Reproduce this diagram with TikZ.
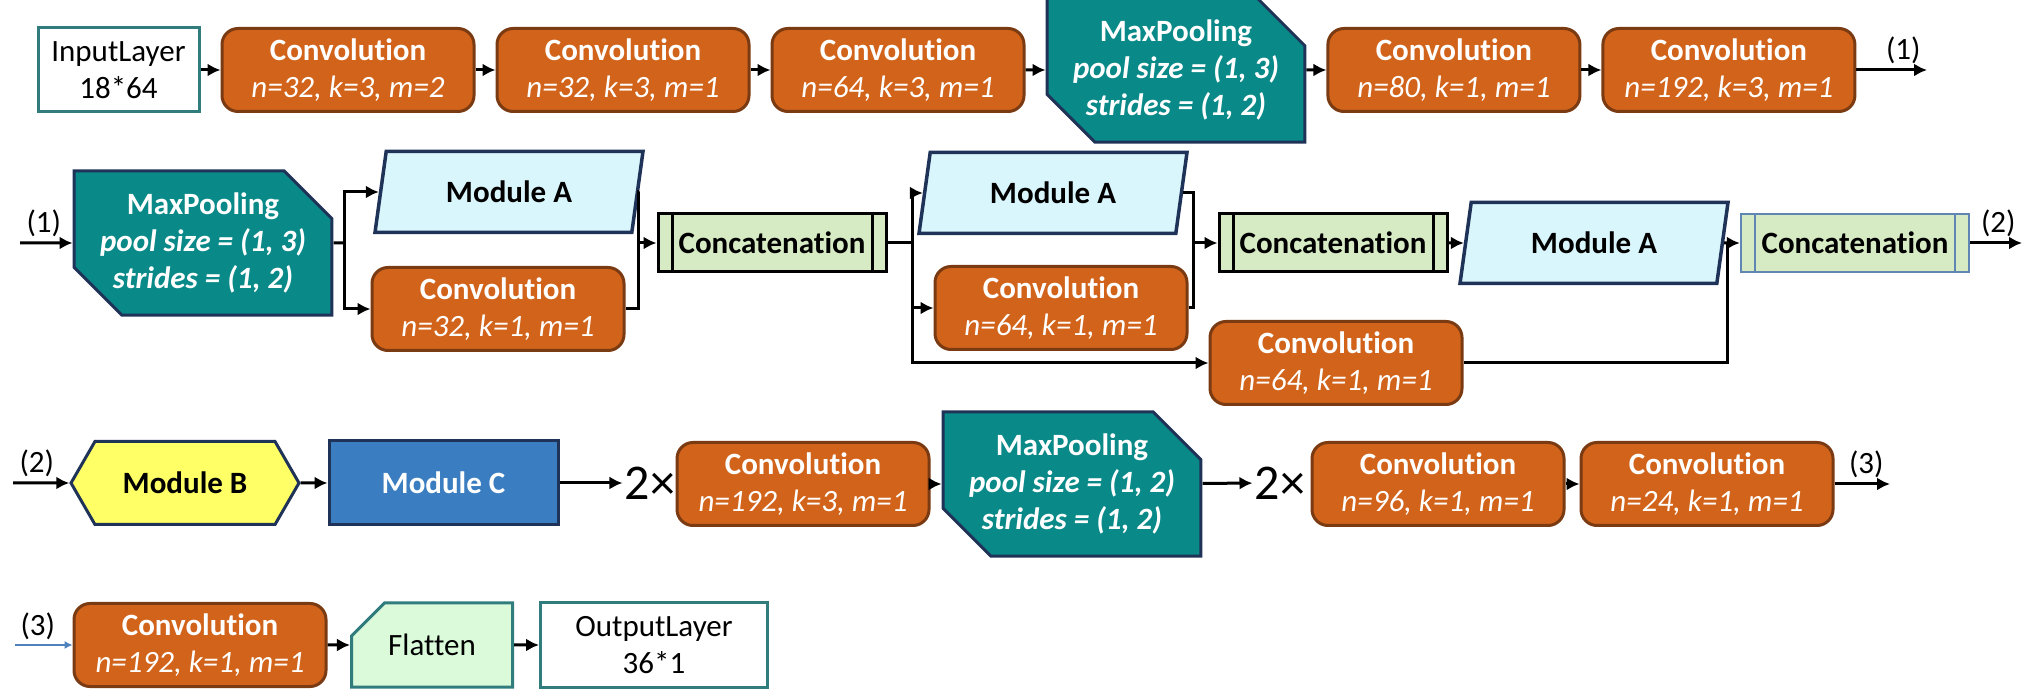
\documentclass[tikz,border=0pt]{standalone}
\usepackage{fontspec}
\setmainfont{Carlito}[Ligatures=NoCommon]
\usepackage{tikz}
\usetikzlibrary{arrows.meta}
\usetikzlibrary{positioning, calc}
\usetikzlibrary{shapes.geometric, shapes.misc, shapes.symbols}

\definecolor{convfill}{RGB}{210,99,26}
\definecolor{convline}{RGB}{122,58,18}
\definecolor{poolfill}{RGB}{9,137,136}
\definecolor{navyline}{RGB}{31,50,88}
\definecolor{modafill}{RGB}{217,246,252}
\definecolor{catfill}{RGB}{214,234,196}
\definecolor{catblue}{RGB}{96,134,180}
\definecolor{modbfill}{RGB}{255,255,102}
\definecolor{modcfill}{RGB}{58,125,192}
\definecolor{tealline}{RGB}{49,125,125}
\definecolor{flatfill}{RGB}{218,250,218}
\definecolor{thinblue}{RGB}{79,129,189}

\newcommand{\basefont}{\fontsize{15.5}{18.5}\selectfont}
\newcommand{\convtext}[1]{\textbf{Convolution}\\\textit{#1}}
\newcommand{\pooltext}[2]{\textbf{MaxPooling}\\\textbf{\textit{pool size = #1}}\\\textbf{\textit{strides = #2}}}

\tikzstyle{conv} = [draw=convline, fill=convfill, line width=1.5pt,
	rounded corners=8pt,
	minimum width=126pt, minimum height=41.5pt,
	inner sep=0pt, align=center, text=white, font=\basefont]
\tikzstyle{pool} = [chamfered rectangle,
	chamfered rectangle corners={north east, south west},
	chamfered rectangle xsep=13pt, chamfered rectangle ysep=11pt,
	draw=navyline, fill=poolfill, line width=1.5pt,
	minimum width=126pt, minimum height=68pt,
	inner sep=0pt, align=center, text=white, font=\basefont]
\tikzstyle{moda} = [trapezium, trapezium left angle=63, trapezium right angle=117,
	trapezium stretches body=true,
	draw=navyline, fill=modafill, line width=1.75pt,
	minimum width=134pt, minimum height=40.5pt,
	inner sep=0pt, font=\basefont\bfseries]
\tikzstyle{modb} = [signal, signal to=east and west, signal pointer angle=120,
	draw=navyline, fill=modbfill, line width=1.5pt,
	minimum width=114pt, minimum height=41.5pt,
	inner sep=0pt, font=\basefont\bfseries]
\tikzstyle{modc} = [draw=navyline, fill=modcfill, line width=1.5pt,
	minimum width=114.5pt, minimum height=42pt,
	inner sep=0pt, text=white, font=\basefont\bfseries]
\tikzstyle{io} = [draw=tealline, fill=white, line width=1.5pt,
	minimum width=80.5pt, minimum height=42pt,
	inner sep=0pt, align=center, font=\basefont]
\tikzstyle{flat} = [chamfered rectangle,
	chamfered rectangle corners={north west},
	chamfered rectangle xsep=12pt, chamfered rectangle ysep=11pt,
	draw=tealline, fill=flatfill, line width=1.5pt,
	minimum width=80.5pt, minimum height=42pt,
	inner sep=0pt, font=\basefont]
\tikzset{concat/.style={draw=black, fill=catfill, line width=1.5pt,
	minimum width=114pt, minimum height=29pt,
	inner sep=0pt, font=\basefont\bfseries,
	path picture={\draw[line width=#1]
		([xshift=7pt]path picture bounding box.north west) -- ([xshift=7pt]path picture bounding box.south west)
		([xshift=-7pt]path picture bounding box.north east) -- ([xshift=-7pt]path picture bounding box.south east);}},
	concat/.default=1.5pt}
\tikzstyle{times} = [inner sep=1pt, font=\fontsize{25}{28}\selectfont]
\tikzstyle{lbl} = [inner sep=2.5pt, font=\basefont]
\tikzstyle{arrow} = [-{Latex[length=6.5pt, width=6.5pt]}, line width=1.5pt]
\tikzstyle{line} = [line width=1.5pt]

\begin{document}
\begin{tikzpicture}[x=0.5pt, y=-0.5pt]
	\useasboundingbox (0,0) rectangle (2040,699);
	
	% row 1
	\node (in) [io] at (118.5,70) {InputLayer\\18*64};
	\node (c1) [conv, right=10pt of in] {\convtext{n=32, k=3, m=2}};
	\node (c2) [conv, right=10pt of c1] {\convtext{n=32, k=3, m=1}};
	\node (c3) [conv, right=10pt of c2] {\convtext{n=64, k=3, m=1}};
	\node (mp1) [pool, right=10pt of c3] {\pooltext{(1, 3)}{(1, 2)}};
	\node (c4) [conv, right=10pt of mp1] {\convtext{n=80, k=1, m=1}};
	\node (c5) [conv, right=10pt of c4] {\convtext{n=192, k=3, m=1}};
	\coordinate (o1) at (1927,70);
	
	\draw [arrow] (in) -- (c1);
	\draw [arrow] (c1) -- (c2);
	\draw [arrow] (c2) -- (c3);
	\draw [arrow] (c3) -- (mp1);
	\draw [arrow] (mp1) -- (c4);
	\draw [arrow] (c4) -- (c5);
	\draw [arrow] (c5) -- (o1) node [lbl, above left] {(1)};
	
	% row 2
	\coordinate (i1) at (20,243);
	\node (mp2) [pool] at (203,243) {\pooltext{(1, 3)}{(1, 2)}};
	\coordinate (j1) at (344,243);
	\node (ma1) [moda] at (509,192) {Module A};
	\node (cv1) [conv] at (498,309) {\convtext{n=32, k=1, m=1}};
	\coordinate (m1) at (638,243);
	\node (cat1) [concat] at (772,243) {Concatenation};
	\coordinate (j2) at (912,243);
	\node (ma2) [moda] at (1053,193) {Module A};
	\node (cv2) [conv] at (1061,308) {\convtext{n=64, k=1, m=1}};
	\node (cv3) [conv] at (1336,363) {\convtext{n=64, k=1, m=1}};
	\coordinate (m2) at (1193,243);
	\node (cat2) [concat] at (1333,243) {Concatenation};
	\node (ma3) [moda] at (1594,243) {Module A};
	\coordinate (m3) at (1727,243);
	\node (cat3) [concat=0.8pt, draw=catblue, line width=1.2pt] at (1855,243) {Concatenation};
	\coordinate (o2) at (2022,243);
	
	\draw [arrow] (i1) node [lbl, above right] {(1)} -- (mp2);
	\draw [line] (mp2) -- (j1);
	\draw [arrow] (j1) |- (ma1);
	\draw [arrow] (j1) |- (cv1);
	\draw [line] (ma1) -| (m1);
	\draw [line] (cv1) -| (m1);
	\draw [arrow] (m1) -- (cat1);
	\draw [line] (cat1) -- (j2);
	\draw [arrow] (j2) |- (ma2);
	\draw [arrow] (j2) |- (cv2);
	\draw [arrow] (j2) |- (cv3);
	\draw [line] (ma2) -| (m2);
	\draw [line] (cv2) -| (m2);
	\draw [arrow] (m2) -- (cat2);
	\draw [arrow] (cat2) -- (ma3);
	\draw [arrow] (ma3) -- (cat3);
	\draw [line] (cv3) -| (m3);
	\draw [arrow] (cat3) -- (o2) node [lbl, above left] {(2)};
	
	% row 3
	\coordinate (i2) at (13,483);
	\node (mb) [modb] at (185,483) {Module B};
	\node (mc) [modc] at (443.5,483) {Module C};
	\node (t1) [times] at (650,483) {2×};
	\node (cv4) [conv] at (803,484) {\convtext{n=192, k=3, m=1}};
	\node (mp3) [pool] at (1072,484) {\pooltext{(1, 2)}{(1, 2)}};
	\node (t2) [times] at (1280,483) {2×};
	\node (cv5) [conv] at (1438,484) {\convtext{n=96, k=1, m=1}};
	\node (cv6) [conv] at (1707,484) {\convtext{n=24, k=1, m=1}};
	\coordinate (o3) at (1890,484);
	
	\draw [arrow] (i2) node [lbl, above right] {(2)} -- (mb);
	\draw [arrow] (mb) -- (mc);
	\draw [arrow] (mc) -- (t1);
	\draw [arrow] (cv4) -- (mp3);
	\draw [arrow] (mp3) -- (t2);
	\draw [arrow] (cv5) -- (cv6);
	\draw [arrow] (cv6) -- (o3) node [lbl, above left] {(3)};
	
	% row 4
	\coordinate (i3) at (15,645);
	\node (cv7) [conv] at (200,645) {\convtext{n=192, k=1, m=1}};
	\node (fl) [flat] at (432,645) {Flatten};
	\node (out) [io, minimum width=113.5pt] at (654,645) {OutputLayer\\36*1};
	
	\draw [-{Latex[length=4pt, width=4pt]}, line width=0.6pt, thinblue] (i3) node [lbl, above right, black] {(3)} -- (cv7);
	\draw [arrow] (cv7) -- (fl);
	\draw [arrow] (fl) -- (out);
\end{tikzpicture}
\end{document}
